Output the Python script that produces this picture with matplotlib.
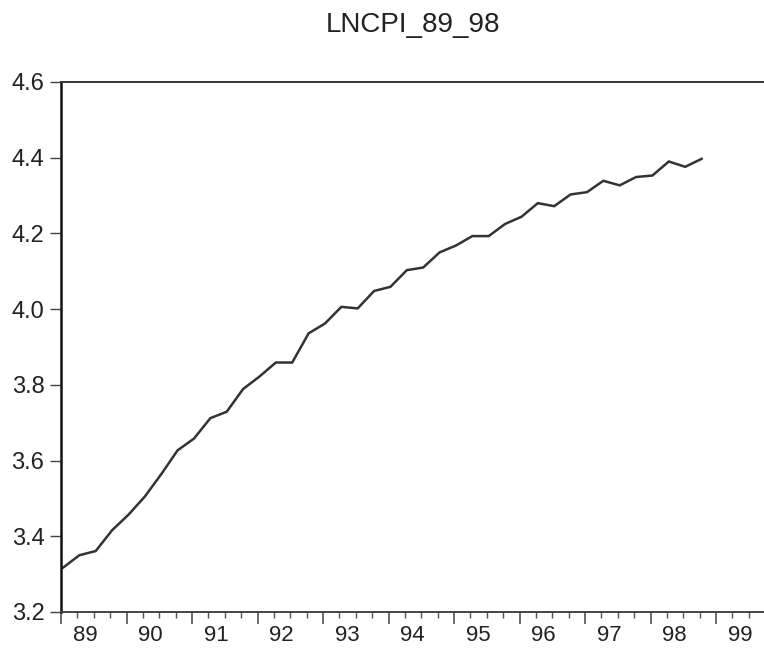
import numpy as np
import matplotlib
matplotlib.use("Agg")
import matplotlib.pyplot as plt
from matplotlib.ticker import FixedLocator, NullFormatter

# quarterly log CPI, 1989Q1 - 1998Q4
start_year = 1989
lncpi = [
    3.317, 3.350, 3.361, 3.416, 3.457, 3.505, 3.564, 3.627,
    3.658, 3.712, 3.729, 3.789, 3.822, 3.859, 3.859, 3.936,
    3.962, 4.006, 4.002, 4.048, 4.059, 4.103, 4.110, 4.150,
    4.168, 4.193, 4.193, 4.225, 4.244, 4.280, 4.272, 4.303,
    4.309, 4.339, 4.327, 4.349, 4.353, 4.390, 4.376, 4.397,
]
year_labels = ["89", "90", "91", "92", "93", "94", "95", "96", "97", "98", "99"]
y_ticks = [3.2, 3.4, 3.6, 3.8, 4.0, 4.2, 4.4, 4.6]

plt.rcParams["font.family"] = ["Liberation Sans", "DejaVu Sans"]

fig = plt.figure(figsize=(7.64, 6.52), dpi=100)
ax = fig.add_axes([61 / 764, 40 / 652, 703 / 764, 530 / 652])

x = start_year + (np.arange(len(lncpi)) + 0.12) / 4
ax.plot(x, lncpi, color="#333333", linewidth=1.8, solid_joinstyle="miter")

years = np.arange(start_year, start_year + len(year_labels))
ax.set_xlim(start_year, start_year + 703 / 65.5)
ax.set_ylim(3.2, 4.6)

# long ticks at year boundaries, short ones at quarters
ax.set_xticks(years)
ax.xaxis.set_major_formatter(NullFormatter())
quarters = [yr + q / 4 for yr in years for q in (1, 2, 3)]
ax.xaxis.set_minor_locator(FixedLocator(quarters))
ax.tick_params(axis="x", which="major", length=8.5, width=1.1, color="#444444", direction="out")
ax.tick_params(axis="x", which="minor", length=4.0, width=1.0, color="#555555", direction="out")

# year labels sit a little inside each year
for yr, lab in zip(years, year_labels):
    ax.text(yr + 0.37, -0.024, lab, transform=ax.get_xaxis_transform(),
            ha="center", va="top", fontsize=16, color="#222222")

ax.set_yticks(y_ticks)
ax.set_yticklabels([f"{v:.1f}" for v in y_ticks], fontsize=17, color="#222222")
ax.tick_params(axis="y", length=8, width=1.0, color="#444444", pad=4)

ax.spines["right"].set_visible(False)
ax.spines["left"].set_color("#111111")
ax.spines["left"].set_linewidth(1.8)
ax.spines["top"].set_color("#333333")
ax.spines["top"].set_linewidth(1.4)
ax.spines["bottom"].set_color("#444444")
ax.spines["bottom"].set_linewidth(1.4)

fig.text(413.5 / 764, 1 - 25 / 652, "LNCPI_89_98", ha="center", va="center",
         fontsize=20, color="#222222")

fig.savefig("out.png", dpi=100, facecolor="white")
